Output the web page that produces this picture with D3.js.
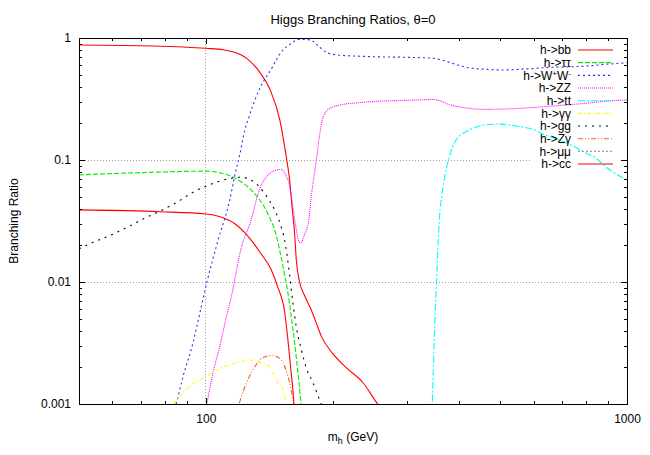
<!DOCTYPE html>
<html>
<head>
<meta charset="utf-8">
<script src="https://cdn.jsdelivr.net/npm/d3@7"></script>
<style>
body { margin: 0; background: #fff; }
svg { display: block; font-family: "Liberation Sans", Arial, sans-serif; }
</style>
</head>
<body>
<script>
// branching ratios, [m_h in GeV, BR]
const bbData = [[50,0.876],[75,0.86],[100,0.823],[110,0.80],[116,0.77],[125,0.68],[134,0.53],[142,0.38],[150,0.21],[155,0.11],[158,0.07],[160.4,0.04],[162.5,0.025],[164,0.0152],[167,0.01],[172,0.0076],[178,0.0059],[183,0.0046],[188,0.0036],[200,0.0026],[215,0.002],[236,0.0015],[256,0.001],[300,0.0006]];
const tautauData = [[50,0.0755],[72,0.079],[100,0.081],[109,0.078],[119,0.069],[130,0.054],[140,0.037],[147,0.024],[152.5,0.0134],[156.6,0.0082],[159.6,0.0052],[162.5,0.0032],[165.5,0.0018],[168.5,0.001],[175,0.0005]];
const wwData = [[82,0.0007],[85,0.001],[88.4,0.0017],[93.3,0.0032],[96,0.0049],[100.5,0.0098],[107,0.0222],[114,0.047],[117,0.073],[121,0.12],[123,0.16],[127,0.233],[135,0.4],[144,0.58],[147,0.66],[152.5,0.8],[158,0.88],[161,0.93],[168,0.975],[177,0.965],[184,0.876],[193,0.765],[206,0.725],[230,0.71],[260,0.70],[300,0.695],[346,0.682],[360,0.665],[385,0.62],[415,0.575],[462,0.554],[506,0.547],[555,0.554],[665,0.575],[800,0.589],[890,0.609],[1000,0.627]];
const zzData = [[98,0.0007],[100.5,0.001],[104,0.0018],[108,0.003],[111.5,0.0049],[115,0.0076],[121,0.0183],[128,0.032],[134,0.0568],[142,0.0778],[148,0.083],[151,0.0838],[154,0.0778],[157.5,0.0645],[161,0.0415],[164,0.0267],[166,0.022],[168,0.021],[171.6,0.0245],[175.6,0.0323],[178,0.05],[183,0.1],[186,0.155],[190,0.226],[197,0.265],[208,0.282],[228,0.294],[263,0.304],[316,0.31],[346,0.314],[365,0.30],[378,0.285],[407,0.27],[462,0.26],[555,0.265],[665,0.277],[800,0.292],[906,0.305],[1000,0.31]];
const ttData = [[344,0.0005],[345,0.001],[347,0.002],[350,0.005],[353,0.01],[356,0.02],[359,0.035],[363,0.05],[368,0.0686],[378,0.104],[393,0.146],[422,0.176],[462,0.194],[497,0.197],[555,0.188],[586,0.182],[641,0.16],[729,0.135],[798,0.114],[843,0.104],[890,0.088],[1000,0.0686]];
const gamgamData = [[78,0.0008],[83.6,0.001],[91.6,0.0014],[100.7,0.0017],[109.5,0.002],[120.4,0.0022],[127,0.0023],[134,0.0022],[142,0.002],[148.4,0.0015],[152.5,0.0013],[155,0.001],[158,0.0007]];
const ggData = [[50,0.0187],[54.4,0.0214],[59.6,0.0243],[65.3,0.0283],[71.6,0.0333],[78.3,0.0385],[85.8,0.0455],[94,0.0553],[100.5,0.0612],[106.8,0.0664],[114.8,0.0709],[121,0.0723],[128,0.0686],[133,0.062],[137.7,0.0535],[143,0.044],[147,0.0365],[150,0.0303],[153.8,0.0222],[158,0.0117],[161,0.0067],[164,0.0043],[168.5,0.0028],[173,0.002],[179.6,0.0015],[188,0.001],[200,0.0006]];
const zgamData = [[118,0.0008],[120,0.001],[125,0.0015],[129.4,0.0019],[136.7,0.0024],[144,0.0025],[151,0.0023],[156.6,0.0017],[159.6,0.0013],[161.5,0.001],[163,0.0007]];
const mumuData = []; // stays below 0.001, nothing visible
const ccData = [[50,0.039],[78,0.0377],[100,0.0361],[109,0.034],[117,0.0302],[126,0.0237],[135,0.0172],[143,0.0126],[148,0.0092],[154,0.0056],[156.6,0.0034],[159,0.002],[161,0.0013],[162,0.001],[166,0.0005]];

const seriesLabels = ["h->bb", "h->ττ", "h->W^+W^-", "h->ZZ", "h->tt", "h->γγ", "h->gg", "h->Zγ", "h->μμ", "h->cc"];
const seriesData = [bbData, tautauData, wwData, zzData, ttData, gamgamData, ggData, zgamData, mumuData, ccData];

const xMajor = [100, 1000];
const xMinor = [50, 60, 70, 80, 90, 200, 300, 400, 500, 600, 700, 800, 900];
const yMajor = [0.001, 0.01, 0.1, 1];
const yLabels = ["0.001", "0.01", "0.1", "1"];

const title = "Higgs Branching Ratios, θ=0";

// gnuplot-like line styles
const colors = ["#ff0000", "#00ee00", "#2a2aff", "#ff00ff", "#00ffff", "#ffff00", "#000000", "#ff5a1e", "#a0a0a0", "#ff0000"];
const dashes = [null, "5,2", "2,3", "1,1", "7,2,2,2", "4,2,1,2", "2,5", "5,2,1,2,1,2", "2,2", null];

const W = 650, H = 455;
const pL = 79, pR = 627, pT = 38, pB = 404;

const svg = d3.select("body").append("svg")
    .attr("width", W).attr("height", H)
    .attr("viewBox", `0 0 ${W} ${H}`);

const x = d3.scaleLog().domain([50, 1000]).range([pL, pR]);
const y = d3.scaleLog().domain([0.001, 1]).range([pB, pT]);

const yMinor = [];
[0.001, 0.01, 0.1].forEach(d => { for (let k = 2; k <= 9; k++) yMinor.push(d * k); });

// grid
const grid = svg.append("g").attr("stroke", "#a0a0a0").attr("stroke-dasharray", "1,2")
    .attr("shape-rendering", "crispEdges");
grid.append("line").attr("x1", x(100)).attr("x2", x(100)).attr("y1", pT).attr("y2", pB);

// clip for curves
svg.append("clipPath").attr("id", "plotclip")
    .append("rect").attr("x", pL).attr("y", pT).attr("width", pR - pL).attr("height", pB - pT);

const line = d3.line()
    .x(d => x(d[0]))
    .y(d => y(d[1]))
    .curve(d3.curveMonotoneX);

const curves = svg.append("g").attr("clip-path", "url(#plotclip)");
seriesData.forEach((data, i) => {
    if (!data.length) return;
    curves.append("path")
        .attr("d", line(data))
        .attr("fill", "none")
        .attr("stroke", colors[i])
        .attr("stroke-width", 1.1)
        .attr("stroke-dasharray", dashes[i]);
});

// axes, ticks pointing inward like gnuplot
const styleAxis = g => {
    g.select(".domain").remove();
    g.attr("font-size", 12).attr("font-family", "Liberation Sans, Arial, sans-serif");
    g.selectAll("line").attr("shape-rendering", "crispEdges");
};

svg.append("g").attr("transform", `translate(0,${pB})`)
    .call(d3.axisBottom(x).tickValues(xMajor).tickFormat(d3.format("d")).tickSize(-6).tickPadding(10))
    .call(styleAxis);
svg.append("g").attr("transform", `translate(0,${pB})`)
    .call(d3.axisBottom(x).tickValues(xMinor).tickFormat("").tickSize(-3))
    .call(styleAxis);
svg.append("g").attr("transform", `translate(0,${pT})`)
    .call(d3.axisTop(x).tickValues(xMajor).tickFormat("").tickSize(-6))
    .call(styleAxis);
svg.append("g").attr("transform", `translate(0,${pT})`)
    .call(d3.axisTop(x).tickValues(xMinor).tickFormat("").tickSize(-3))
    .call(styleAxis);

svg.append("g").attr("transform", `translate(${pL},0)`)
    .call(d3.axisLeft(y).tickValues(yMajor).tickFormat((d, i) => yLabels[i]).tickSize(-6).tickPadding(8))
    .call(styleAxis);
svg.append("g").attr("transform", `translate(${pL},0)`)
    .call(d3.axisLeft(y).tickValues(yMinor).tickFormat("").tickSize(-3))
    .call(styleAxis);
svg.append("g").attr("transform", `translate(${pR},0)`)
    .call(d3.axisRight(y).tickValues(yMajor).tickFormat("").tickSize(-6))
    .call(styleAxis);
svg.append("g").attr("transform", `translate(${pR},0)`)
    .call(d3.axisRight(y).tickValues(yMinor).tickFormat("").tickSize(-3))
    .call(styleAxis);

// frame
svg.append("rect")
    .attr("x", pL).attr("y", pT).attr("width", pR - pL).attr("height", pB - pT)
    .attr("fill", "none").attr("stroke", "#000").attr("shape-rendering", "crispEdges");

// titles
svg.append("text").attr("x", (pL + pR) / 2).attr("y", 24)
    .attr("text-anchor", "middle").attr("font-size", 13).text(title);

svg.append("text").attr("transform", `translate(18,${(pT + pB) / 2}) rotate(-90)`)
    .attr("text-anchor", "middle").attr("font-size", 12).text("Branching Ratio");

const xl = svg.append("text").attr("x", (pL + pR) / 2).attr("y", 441)
    .attr("text-anchor", "middle").attr("font-size", 12);
xl.append("tspan").text("m");
xl.append("tspan").attr("font-size", 9).attr("dy", 3).text("h");
xl.append("tspan").attr("dy", -3).text(" (GeV)");

// legend
const legend = svg.append("g").attr("font-size", 12);
const rowH = 12.67;
seriesLabels.forEach((lab, i) => {
    const cy = 50 + i * rowH;
    const t = legend.append("text").attr("x", 571).attr("y", cy + 4.3).attr("text-anchor", "end");
    // "^c" marks a superscript character
    const parts = lab.split(/(\^.)/).filter(s => s.length);
    let raised = false;
    parts.forEach(p => {
        if (p[0] === "^") {
            t.append("tspan").attr("font-size", 8).attr("dy", raised ? 0 : -4).text(p[1]);
            raised = true;
        } else {
            t.append("tspan").attr("dy", raised ? 4 : 0).text(p);
            raised = false;
        }
    });
    legend.append("line")
        .attr("x1", 578).attr("x2", 613).attr("y1", cy).attr("y2", cy)
        .attr("stroke", colors[i]).attr("stroke-width", 1.1)
        .attr("stroke-dasharray", dashes[i]);
});

// horizontal grid lines; the 0.1 one stops short of the key like in gnuplot
const keyLeft = legend.selectAll("text").nodes()
    .map(n => n.getBBox().x)
    .slice(-2)
    .reduce((a, b) => Math.min(a, b));
grid.append("line").attr("x1", pL).attr("x2", keyLeft - 8).attr("y1", y(0.1)).attr("y2", y(0.1));
grid.append("line").attr("x1", pL).attr("x2", pR).attr("y1", y(0.01)).attr("y2", y(0.01));
</script>
</body>
</html>
